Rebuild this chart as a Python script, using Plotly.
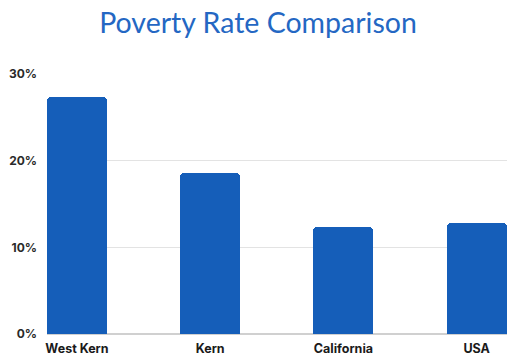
import plotly.graph_objects as go

categories = ["West Kern", "Kern", "California", "USA"]
poverty_rate = [27.3, 18.6, 12.3, 12.8]
y_ticks = [0, 10, 20, 30]
y_tick_labels = ["0%", "10%", "20%", "30%"]

fig = go.Figure(go.Bar(
    x=list(range(len(categories))),
    y=poverty_rate,
    width=0.45,
    marker=dict(color="#155EB9", cornerradius=4, line=dict(width=0)),
    hoverinfo="skip",
))

fig.update_layout(
    width=508, height=354,
    margin=dict(l=47, r=1, t=74, b=20),
    paper_bgcolor="white", plot_bgcolor="white",
    showlegend=False,
    title=dict(text="Poverty Rate Comparison", x=258/508, xanchor="center",
               y=1 - 23/354, yanchor="middle", xref="container", yref="container",
               font=dict(family="Lato", size=28.5, color="#2467C3")),
    bargap=0,
)
fig.update_xaxes(
    tickmode="array", tickvals=list(range(len(categories))), ticktext=categories,
    range=[-0.225, 3.228], showgrid=False, zeroline=False, showline=False,
    ticks="", ticklabelstandoff=5, automargin=False,
    tickfont=dict(family="Inter", size=12.5, color="#1a1a1a", weight="bold"),
)
fig.update_yaxes(
    range=[0, 30], tickmode="array", tickvals=y_ticks, ticktext=y_tick_labels,
    showgrid=True, gridcolor="#e3e3e3", gridwidth=1, zeroline=True,
    zerolinecolor="#d0d0d0", zerolinewidth=1.5, showline=False, ticks="",
    ticklabelstandoff=9, automargin=False,
    tickfont=dict(family="Inter", size=12, color="#2a2a2a", weight="bold"),
)
fig.write_html("out.html")
